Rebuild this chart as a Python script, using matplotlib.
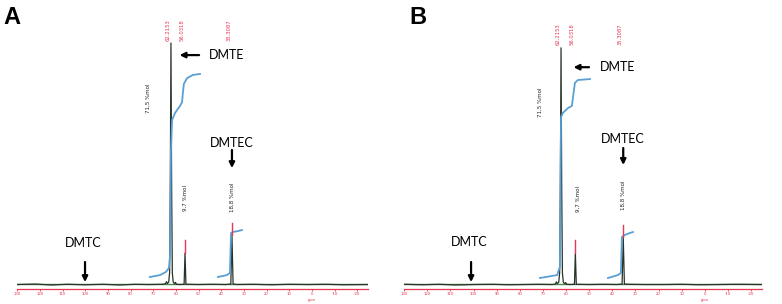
import matplotlib
matplotlib.use("Agg")
import matplotlib.pyplot as plt

# ---------- data ----------

ppm_ticks = [130, 120, 110, 100, 90, 80, 70, 60, 50, 40, 30, 20, 10, 0, -10, -20]

# spectrum trace (ppm, relative intensity)
spec_ppm = [130, 122, 115, 108, 100, 92, 85, 78, 72, 66, 64.6, 64.2, 63.8, 63.2,
            62.8, 62.5, 62.2, 61.9, 61.6, 61.2, 60.6, 60.2, 59.8, 58.5,
            56.4, 56.0, 55.6, 50, 44, 38, 35.8, 35.3, 34.8, 33, 26, 18, 10, 2,
            -6, -14, -24.7]
spec_a = [0.2, 0.4, 0.0, 0.3, 0.1, 0.3, 0.0, 0.3, 0.2, 0.3, 0.5, 1.4, 0.6, 1.2,
          5, 40, 100, 40, 5, 1.2, 0.5, 1.1, 0.3, 0.2,
          0.3, 13.2, 0.3, 0.2, 0.3, 0.2, 0.4, 20.7, 0.4, 0.2, 0.3, 0.1, 0.3, 0.2,
          0.3, 0.1, 0.2]
spec_b = [0.3, 0.1, 0.3, 0.0, 0.2, 0.3, 0.1, 0.2, 0.3, 0.2, 0.4, 1.3, 0.6, 1.1,
          5, 39, 98, 39, 5, 1.1, 0.5, 1.0, 0.3, 0.2,
          0.3, 13.2, 0.3, 0.2, 0.3, 0.2, 0.4, 19.8, 0.4, 0.3, 0.2, 0.2, 0.3, 0.1,
          0.2, 0.3, 0.2]

# integral curves
int1_ppm_a = [71.5, 67.0, 64.4, 63.1, 62.6, 62.2, 61.7, 60.4, 58.2, 57.3, 56.9, 56.5, 55.1, 52.5, 49.4]
int1_a = [3.3, 4.1, 5.4, 7.0, 12.4, 55.8, 68.2, 71.1, 74.0, 75.6, 79.8, 83.1, 85.5, 86.8, 87.2]
int2_ppm_a = [41.5, 37.5, 36.2, 35.7, 34.9, 32.6, 30.9]
int2_a = [3.3, 4.1, 5.0, 21.5, 21.9, 22.3, 22.7]

int1_ppm_b = [71.3, 63.9, 62.7, 62.2, 61.4, 59.2, 57.5, 57.0, 56.2, 54.9, 49.7]
int1_b = [2.9, 4.1, 7.4, 69.4, 71.1, 73.1, 74.0, 77.7, 83.5, 84.7, 85.1]
int2_ppm_b = [41.9, 37.6, 36.3, 35.9, 34.6, 32.4, 31.1]
int2_b = [2.9, 4.1, 5.0, 19.8, 20.7, 21.5, 21.9]

# integral values (%) and where they are printed
int_labels = ["71,5 %mol", "9,7 %mol", "18,8 %mol"]
int_label_ppm_a = [72.3, 56.0, 35.3]
int_label_y_a = [77, 36, 36.4]
int_label_ppm_b = [71.3, 54.9, 35.4]
int_label_y_b = [75.6, 35.5, 37.2]

# peak picking labels
pick_ppm = [62.2, 56.0, 35.3]
pick_text = ["62.2153", "56.0318", "35.3087"]

RED = "#e8374e"
BLUE = "#5a9fd4"
TRACE = "#263326"
BASE = "#4e8a4e"

W, H = 782, 304
fig = plt.figure(figsize=(W / 100, H / 100), dpi=100)
plt.rcParams["font.family"] = ["Lato", "DejaVu Sans"]


def draw_panel(ax, spec, i1p, i1, i2p, i2, lab_ppm, lab_y, pick_y, marks, ann):
    ax.set_xlim(130.1, -24.7)
    ax.set_ylim(-1.65, 115.7)

    ax.axhline(0.3, color=BASE, lw=1.0, zorder=1)
    ax.plot(spec_ppm, spec, color=TRACE, lw=0.9, zorder=3)
    ax.plot(i1p, i1, color=BLUE, lw=1.3, zorder=4)
    ax.plot(i2p, i2, color=BLUE, lw=1.3, zorder=4)

    for txt, p, y in zip(int_labels, lab_ppm, lab_y):
        ax.text(p, y, txt, rotation=90, fontsize=4, color="#222222",
                ha="center", va="center", family="DejaVu Sans Condensed")

    for p, t in zip(pick_ppm, pick_text):
        ax.text(p + 1.3, pick_y, t, rotation=90, fontsize=3.8, color=RED,
                ha="center", va="bottom", family="DejaVu Sans Condensed")
    # small red marks over the two smaller peaks
    for p, y0, y1 in marks:
        ax.plot([p, p], [y0, y1], color=RED, lw=1.0, zorder=5)

    # annotations
    (dmte_from, dmte_to, dmte_y, dmte_tx), (dmtec_p, dmtec_ty, dmtec_y0, dmtec_y1), (dmtc_p, dmtc_ty, dmtc_y0, dmtc_y1) = ann
    ap = dict(arrowstyle="-|>", color="black", lw=1.6, mutation_scale=8,
              shrinkA=0, shrinkB=0)
    ax.annotate("", xy=(dmte_to, dmte_y), xytext=(dmte_from, dmte_y), arrowprops=ap)
    ax.text(dmte_tx, dmte_y, "DMTE", fontsize=9, ha="left", va="center")
    ax.annotate("", xy=(dmtec_p, dmtec_y1), xytext=(dmtec_p, dmtec_y0), arrowprops=ap)
    ax.text(dmtec_p, dmtec_ty, "DMTEC", fontsize=9, ha="center", va="center")
    ax.annotate("", xy=(dmtc_p, dmtc_y1), xytext=(dmtc_p, dmtc_y0), arrowprops=ap)
    ax.text(dmtc_p + 0.8, dmtc_ty, "DMTC", fontsize=9, ha="center", va="center")

    for s in ("top", "left", "right"):
        ax.spines[s].set_visible(False)
    ax.spines["bottom"].set_color(RED)
    ax.spines["bottom"].set_linewidth(0.9)
    ax.set_yticks([])
    ax.set_xticks(ppm_ticks)
    ax.set_xticklabels([str(t) for t in ppm_ticks])
    ax.tick_params(axis="x", colors=RED, labelsize=3, length=1.5, width=0.6, pad=1)
    ax.text(0, -5.5, "ppm", fontsize=3, color=RED, ha="center", va="top",
            clip_on=False)
    ax.patch.set_alpha(0)


ax_a = fig.add_axes([17 / W, 15 / H, 351 / W, 284 / H])
draw_panel(ax_a, spec_a, int1_ppm_a, int1_a, int2_ppm_a, int2_a,
           int_label_ppm_a, int_label_y_a, 101,
           [(56.0, 13.2, 18.6), (35.3, 20.7, 25.6)],
           ((49.8, 58.4, 95, 45.5),
            (35.3, 58.7, 55.8, 48.3),
            (100.1, 17.4, 9.5, 1.2)))

ax_b = fig.add_axes([404 / W, 15 / H, 358 / W, 284 / H])
draw_panel(ax_b, spec_b, int1_ppm_b, int1_b, int2_ppm_b, int2_b,
           int_label_ppm_b, int_label_y_b, 99,
           [(56.0, 13.2, 18.6), (35.3, 19.8, 24.8)],
           ((50.1, 56.8, 90, 45.5),
            (35.3, 60.3, 56.6, 49.6),
            (101.1, 17.8, 9.5, 1.2)))

fig.text(12 / W, 1 - 18 / H, "A", fontsize=17, fontweight="bold",
         family="Liberation Sans", ha="center", va="center")
fig.text(418 / W, 1 - 17 / H, "B", fontsize=17, fontweight="bold",
         family="Liberation Sans", ha="center", va="center")

fig.savefig("out.png", dpi=100, facecolor="white")
